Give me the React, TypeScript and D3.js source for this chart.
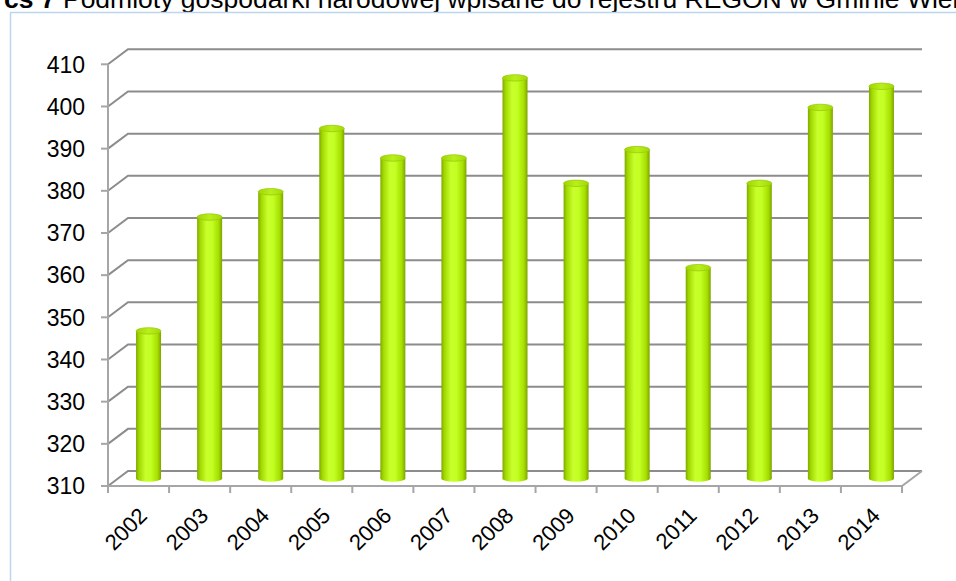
import React from "react";
import * as d3 from "d3";

const years = ["2002","2003","2004","2005","2006","2007","2008","2009","2010","2011","2012","2013","2014"];
const values = [345, 372, 378, 393, 386, 386, 405, 380, 388, 360, 380, 398, 403];
const yTicks = [310, 320, 330, 340, 350, 360, 370, 380, 390, 400, 410];
const titleBold = "cs 7";
const titleRest = "Podmioty gospodarki narodowej wpisane do rejestru REGON w Gminie Wieliszew";

const W = 956, H = 581;
const X0 = 108, X1 = 902;
const DX = 20, DY = -15;
const FONT = "'Liberation Sans', Arial, sans-serif";

export default function App() {
  const x = d3.scaleBand<string>().domain(years).range([X0, X1]).paddingInner(0).paddingOuter(0);
  const y = d3.scaleLinear().domain([310, 410]).range([486, 64.3]);
  const bw = 25;
  const ry = 3.2;
  const base = y(310) + DY / 2;
  const gridColor = "#8c8c8c";
  const axisColor = "#a6a6a6";

  return (
    <svg width={W} height={H} style={{ position: "absolute", left: 0, top: 0, background: "#fff" }} fontFamily={FONT}>
      <defs>
        <linearGradient id="cyl" x1="0" x2="1" y1="0" y2="0">
          <stop offset="0%" stopColor="#7fa900" />
          <stop offset="12%" stopColor="#a2d800" />
          <stop offset="38%" stopColor="#c8ff2c" />
          <stop offset="60%" stopColor="#c2ff22" />
          <stop offset="86%" stopColor="#a6de00" />
          <stop offset="100%" stopColor="#7ca400" />
        </linearGradient>
        <linearGradient id="capg" x1="0" x2="1" y1="0" y2="0">
          <stop offset="0%" stopColor="#9fd400" />
          <stop offset="50%" stopColor="#b9f01c" />
          <stop offset="100%" stopColor="#a2d806" />
        </linearGradient>
        <clipPath id="clipAll"><rect x={0} y={0} width={W} height={H} /></clipPath>
      </defs>
      <g clipPath="url(#clipAll)">
        <text x={4} y={8.3} fontSize={26.5} fill="#000">
          <tspan fontWeight="bold">{titleBold}</tspan>
          <tspan> {titleRest}</tspan>
        </text>
        <rect x={10.5} y={12.5} width={1200} height={1200} fill="none" stroke="#bcd5ef" strokeWidth={1.5} />

        {yTicks.map((t) => (
          <path
            key={"g" + t}
            d={`M${X0},${y(t)} L${X0 + DX},${y(t) + DY} L${X1 + DX},${y(t) + DY}`}
            fill="none"
            stroke={gridColor}
            strokeWidth={2}
          />
        ))}
        <path
          d={`M${X0},${y(310)} L${X1},${y(310)} L${X1 + DX},${y(310) + DY}`}
          fill="none"
          stroke={axisColor}
          strokeWidth={2}
        />
        <line x1={X0} x2={X0} y1={y(410)} y2={y(310)} stroke={axisColor} strokeWidth={2} />
        {yTicks.map((t) => (
          <g key={"yt" + t}>
            <line x1={X0 - 7} x2={X0} y1={y(t)} y2={y(t)} stroke={axisColor} strokeWidth={2} />
            <text x={85} y={y(t)} dy="0.36em" textAnchor="end" fontSize={23} fill="#000">{t}</text>
          </g>
        ))}
        {years.concat(["end"]).map((yr, i) => {
          const xx = X0 + i * x.bandwidth();
          return <line key={"xt" + i} x1={xx} x2={xx} y1={y(310)} y2={y(310) + 7} stroke={axisColor} strokeWidth={2} />;
        })}
        {years.map((yr, i) => {
          const cx = (x(yr) as number) + x.bandwidth() / 2 + DX / 2;
          const top = y(values[i]) + DY / 2;
          return (
            <g key={"b" + yr}>
              <ellipse cx={cx} cy={base} rx={bw / 2} ry={ry} fill="url(#cyl)" />
              <rect x={cx - bw / 2} y={top} width={bw} height={base - top} fill="url(#cyl)" />
              <ellipse cx={cx} cy={top} rx={bw / 2} ry={ry} fill="url(#capg)" stroke="#9acb0c" strokeWidth={0.8} />
            </g>
          );
        })}
        {years.map((yr) => {
          const cx = (x(yr) as number) + x.bandwidth() / 2;
          const ax = cx + 10;
          const ay = 517;
          return (
            <text key={"xl" + yr} x={ax} y={ay} textAnchor="end" fontSize={22} fill="#000" transform={`rotate(-45,${ax},${ay})`}>
              {yr}
            </text>
          );
        })}
      </g>
    </svg>
  );
}
